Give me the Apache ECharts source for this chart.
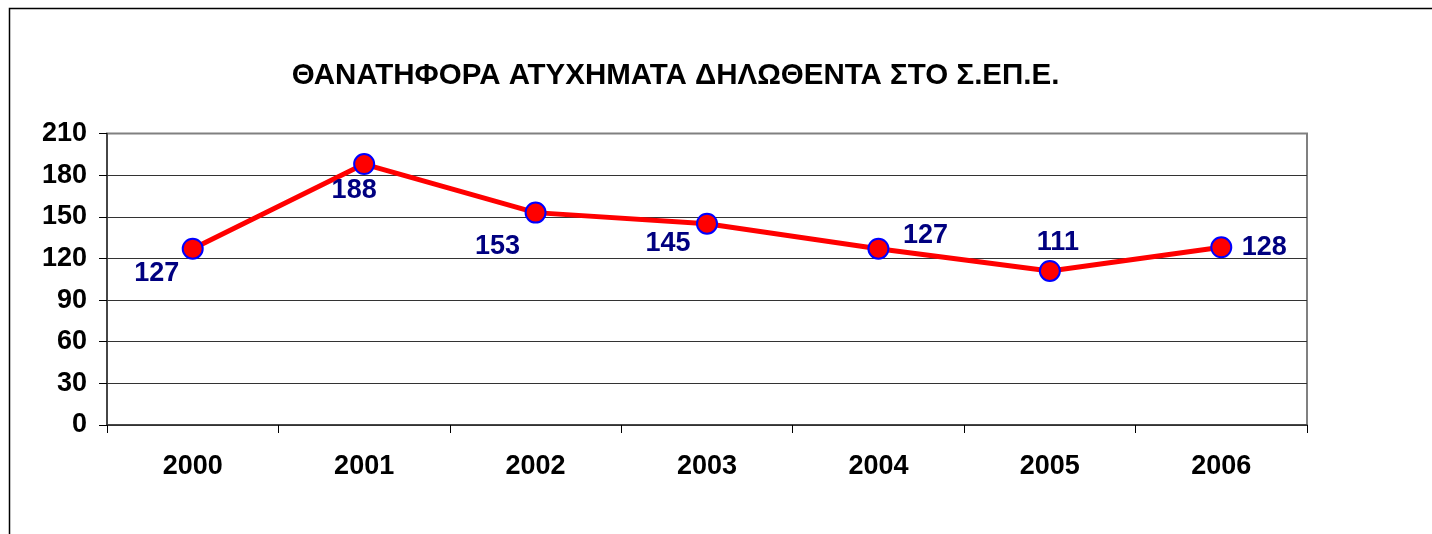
<!DOCTYPE html>
<html>
<head>
<meta charset="utf-8">
<script src="https://cdn.jsdelivr.net/npm/echarts@6/dist/echarts.min.js"></script>
<style>
html,body{margin:0;padding:0;background:#fff;}
#chart{width:1432px;height:534px;}
</style>
</head>
<body>
<div id="chart"></div>
<script>
const titleText = 'ΘΑΝΑΤΗΦΟΡΑ ΑΤΥΧΗΜΑΤΑ ΔΗΛΩΘΕΝΤΑ ΣΤΟ Σ.ΕΠ.Ε.';
const years = ['2000', '2001', '2002', '2003', '2004', '2005', '2006'];
const accidents = [127, 188, 153, 145, 127, 111, 128];
const yTicks = [0, 30, 60, 90, 120, 150, 180, 210];
// label offsets (style only)
const labelOffsets = [[-36, 25], [-10, 27], [-38, 34], [-39, 20], [47, -13], [8, -28], [43, 0]];

const FONT = '"Liberation Sans", Arial, sans-serif';
const chart = echarts.init(document.getElementById('chart'), null, {renderer: 'canvas'});

const option = {
  animation: false,
  backgroundColor: '#fff',
  graphic: [
    {type: 'rect', silent: true, z: -10,
     shape: {x: 9.5, y: 8.5, width: 1600, height: 700},
     style: {fill: 'none', stroke: '#000', lineWidth: 1.5}},
    {type: 'text', x: 675.5, y: 75.5,
     style: {text: titleText, font: 'bold 29.5px ' + FONT, fill: '#000',
             align: 'center', verticalAlign: 'middle'}}
  ],
  grid: {
    left: 107, right: 125, top: 133.5, bottom: 109,
    show: true, borderColor: '#808080', borderWidth: 2, backgroundColor: '#fff'
  },
  xAxis: {
    type: 'category',
    data: years,
    boundaryGap: true,
    axisLine: {show: true, lineStyle: {color: '#333', width: 1.5}},
    axisTick: {show: true, length: 8, inside: false, alignWithLabel: false, lineStyle: {color: '#000', width: 1}},
    axisLabel: {margin: 28, fontFamily: FONT, fontWeight: 'bold', fontSize: 27, color: '#000'},
    splitLine: {show: false}
  },
  yAxis: {
    type: 'value',
    min: yTicks[0], max: yTicks[yTicks.length - 1], interval: 30,
    axisLine: {show: true, lineStyle: {color: '#333', width: 1.5}},
    axisTick: {show: true, length: 8, lineStyle: {color: '#000', width: 1}},
    axisLabel: {margin: 20, fontFamily: FONT, fontWeight: 'bold', fontSize: 27, color: '#000'},
    splitLine: {show: true, lineStyle: {color: ['#333', '#333', '#333', '#333', '#333', '#333', '#333', '#808080'], width: 1}}
  },
  series: [{
    type: 'line',
    data: accidents.map((v, i) => ({
      value: v,
      label: {offset: labelOffsets[i]}
    })),
    symbol: 'circle',
    symbolSize: 20,
    lineStyle: {color: '#ff0000', width: 5},
    itemStyle: {color: '#ff0000', borderColor: '#0000ff', borderWidth: 2},
    label: {
      show: true, position: 'inside',
      fontFamily: FONT, fontWeight: 'bold', fontSize: 27, color: '#000080'
    },
    z: 5
  }]
};
chart.setOption(option);
</script>
</body>
</html>
